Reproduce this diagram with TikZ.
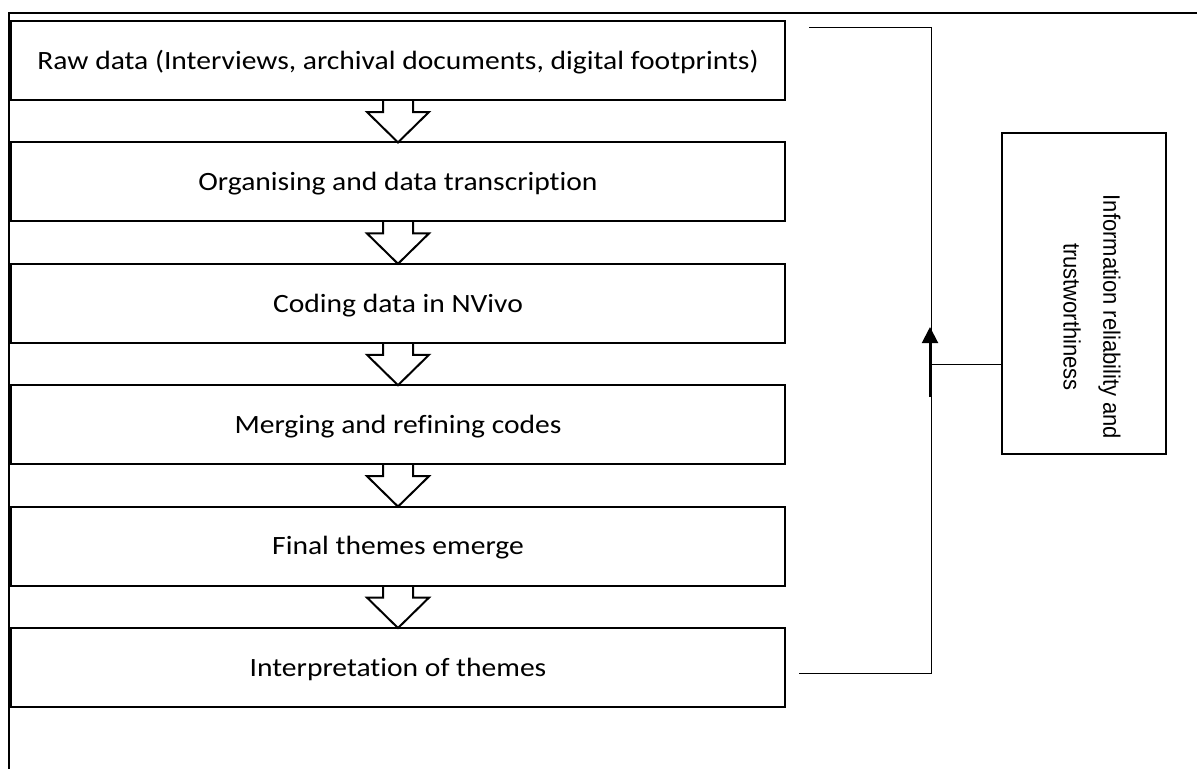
\documentclass[tikz,border=0pt]{standalone}
\usepackage{fontspec}
\setmainfont{Carlito}[FakeStretch=1.12, Ligatures=NoCommon]
\newfontfamily\sidefont{Liberation Sans}
\usetikzlibrary{calc,arrows.meta}

\tikzset{
  stage/.style={draw, line width=2pt, rectangle, inner sep=0pt, outer sep=0pt,
    minimum width=774pt, minimum height=79pt,
    text height=17.6pt, text depth=0pt,
    font=\fontsize{26.4}{30}\selectfont},
  flowarrow/.style={draw, line width=2pt, line join=miter},
  thinline/.style={draw, line width=1pt},
  frameline/.style={draw, line width=2pt},
  sidebox/.style={draw, line width=2pt, rectangle, inner sep=0pt, outer sep=0pt,
    minimum width=164pt, minimum height=321pt},
  sidetext/.style={rotate=-90, yscale=1.08, align=center, inner sep=0pt,
    font=\sidefont\fontsize{22}{37}\selectfont}
}

\begin{document}
\begin{tikzpicture}[x=1pt, y=-1pt]
  \useasboundingbox (0,0) rectangle (1197,769);

  % page frame
  \draw[frameline] (1197,13) -- (9,13) -- (9,769);

  % analysis stages
  \node[stage] (b1) at (398, 60.5)  {Raw data (Interviews, archival documents, digital footprints)};
  \node[stage] (b2) at (398, 181.9) {Organising and data transcription};
  \node[stage] (b3) at (398, 303.3) {Coding data in NVivo};
  \node[stage] (b4) at (398, 424.7) {Merging and refining codes};
  \node[stage] (b5) at (398, 546.1) {Final themes emerge};
  \node[stage] (b6) at (398, 667.5) {Interpretation of themes};

  % hollow block arrows between stages
  \foreach \a/\b in {b1/b2, b2/b3, b3/b4, b4/b5, b5/b6} {
    \draw[flowarrow] ($(\a.south)+(-15,0)$) -- ++(0,12) -- ++(-16,0)
      -- (\b.north) -- ($(\a.south)+(31,12)$) -- ++(-16,0) -- ++(0,-12);
  }

  % reliability box on the right
  \node[sidebox] (side) at (1083.5, 293.5) {};
  \node[sidetext] (sidelabel) at (1092, 317)
    {Information reliability and\\trustworthiness};

  % bracket spanning all stages
  \coordinate (brtop) at (931,27);
  \coordinate (brbot) at (931,673);
  \coordinate (brtopstart) at (809,27);
  \coordinate (brbotstart) at (799,673);
  \coordinate (sidein) at ($(side.west)+(0,70.5)$);
  \coordinate (brjoin) at (sidein -| brtop);
  \draw[thinline] (brtopstart) -- (brtop) -- (brbot) -- (brbotstart);
  \draw[thinline] (sidein) -- (brjoin);
  \draw[line width=2pt, -{Triangle[length=16pt, width=16pt]}]
    ($(brjoin)+(-1,33)$) -- ($(brjoin)+(-1,-37)$);
\end{tikzpicture}
\end{document}
